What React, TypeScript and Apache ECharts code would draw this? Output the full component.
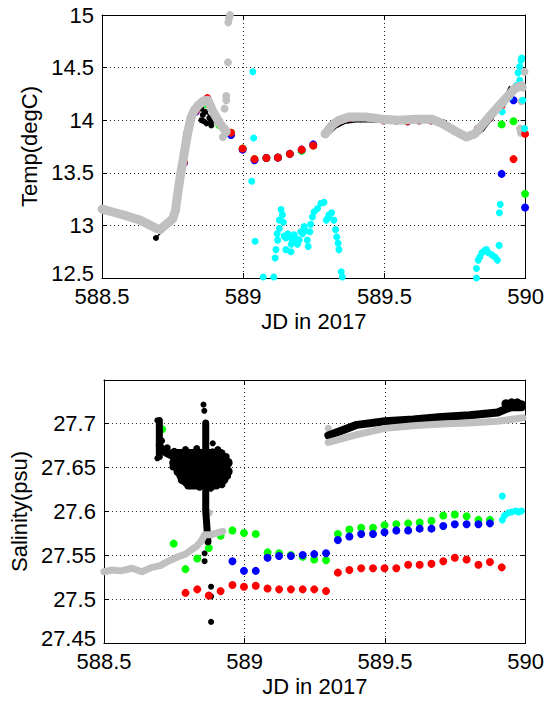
import React, { useEffect, useRef } from "react";
import * as echarts from "echarts";

// ---------- data ----------
const hourX = [588.79, 588.832, 588.873, 588.915, 588.957, 588.998, 589.04, 589.082, 589.123, 589.165, 589.207, 589.248, 589.29, 589.332, 589.373, 589.415, 589.457, 589.498, 589.54, 589.582, 589.623, 589.665, 589.707, 589.748, 589.79, 589.832, 589.873, 589.915, 589.957, 589.998];
const earlyX = [588.707, 588.748];

const tempRed = [13.6, 14.09, 14.21, 13.99, 13.88, 13.73, 13.63, 13.64, 13.645, 13.68, 13.72, 13.76, 13.87, 13.97, 14.01, 14.02, 14.02, 14.0, 14.0, 13.99, 14.0, 14.0, 13.97, 13.9, 13.85, 13.92, 14.02, 14.14, 13.63, 13.87];
const tempGreen = [12.96, 13.06, 13.6, 14.1, 14.15, 13.955, 13.88, 13.73, 13.63, 13.64, 13.645, 13.68, 13.71, 13.76, 13.87, 13.97, 14.01, 14.02, 14.02, 14.0, 14.0, 13.99, 14.0, 14.0, 13.97, 13.9, 13.85, 13.92, 14.02, 13.96, 13.99, 13.3];
const tempBlue = [13.59, 14.08, 14.2, 13.98, 13.86, 13.72, 13.62, 13.64, 13.645, 13.68, 13.72, 13.77, 13.87, 13.97, 14.01, 14.02, 14.02, 14.0, 14.0, 13.99, 14.0, 14.0, 13.97, 13.9, 13.85, 13.92, 14.02, 13.49, 14.19, 13.17];

const tempGrayA = [[588.5, 13.155], [588.547, 13.12], [588.588, 13.09], [588.635, 13.05], [588.694, 12.97], [588.705, 12.96], [588.75, 13.06], [588.76, 13.14], [588.768, 13.3], [588.776, 13.45], [588.787, 13.62], [588.797, 13.78], [588.805, 13.9], [588.815, 14.02], [588.826, 14.09], [588.84, 14.14], [588.858, 14.18], [588.875, 14.19], [588.893, 14.08], [588.917, 13.97], [588.94, 13.89]];
const tempGrayB = [[589.29, 13.87], [589.316, 13.955], [589.339, 14.0], [589.374, 14.03], [589.433, 14.03], [589.492, 14.01], [589.55, 14.0], [589.61, 14.01], [589.668, 14.01], [589.703, 13.97], [589.73, 13.93], [589.762, 13.88], [589.79, 13.84], [589.82, 13.87], [589.867, 14.02], [589.914, 14.16], [589.961, 14.3], [589.985, 14.33]];
const tempGrayOut = [[588.928, 13.84], [588.934, 14.11], [588.94, 14.19], [588.94, 14.23], [588.946, 14.55], [588.947, 14.93], [588.95, 14.97], [588.953, 15.0], [589.996, 14.46], [589.99, 14.31], [589.985, 14.18], [589.98, 13.92], [589.983, 13.88]];
const tempBlackA = [[588.691, 12.88], [588.723, 12.97], [588.752, 13.04], [588.758, 13.18], [588.766, 13.37], [588.777, 13.62], [588.791, 13.88], [588.806, 14.03], [588.826, 14.11], [588.846, 14.12], [588.87, 14.08], [588.887, 14.0], [588.917, 13.94], [588.942, 13.89]];
const tempBlackB = [[589.3, 13.855], [589.33, 13.93], [589.36, 13.97], [589.4, 13.985], [589.45, 13.985], [589.5, 13.98], [589.55, 13.975], [589.6, 13.98], [589.66, 13.985], [589.7, 13.975], [589.73, 13.935], [589.76, 13.87], [589.79, 13.82], [589.815, 13.83], [589.85, 13.9], [589.9, 14.08], [589.943, 14.32]];
const tempBlackDots = [[588.691, 12.88], [588.852, 14.11], [588.852, 14.0], [588.857, 14.05], [588.865, 14.08], [588.87, 13.97], [588.88, 14.02], [588.887, 13.99], [588.887, 13.95], [588.86, 13.99]];
const tempCyan = [[589.034, 14.46], [589.037, 13.83], [589.03, 13.42], [589.042, 12.85], [589.071, 12.51], [589.108, 12.51], [589.113, 12.69], [589.116, 12.77], [589.122, 12.86], [589.128, 12.97], [589.128, 13.05], [589.134, 13.15], [589.142, 13.03], [589.151, 12.88], [589.151, 12.77], [589.169, 12.75], [589.163, 12.89], [589.18, 12.91], [589.192, 12.82], [589.198, 12.86], [589.204, 12.94], [589.216, 12.99], [589.227, 12.86], [589.23, 12.8], [589.236, 12.94], [589.239, 13.01], [589.245, 13.08], [589.251, 13.13], [589.263, 13.16], [589.275, 13.21], [589.286, 13.22], [589.294, 13.05], [589.304, 13.1], [589.313, 13.12], [589.321, 13.05], [589.327, 12.96], [589.331, 12.89], [589.336, 12.83], [589.339, 12.77], [589.347, 12.56], [589.351, 12.51], [589.145, 12.9], [589.158, 12.92], [589.175, 12.86], [589.185, 12.88], [589.17, 12.82], [589.21, 12.92], [589.22, 12.95], [589.3, 13.07], [589.139, 13.1], [589.12, 12.92], [589.826, 12.5], [589.826, 12.59], [589.832, 12.67], [589.838, 12.7], [589.845, 12.74], [589.855, 12.76], [589.861, 12.77], [589.868, 12.74], [589.88, 12.72], [589.891, 12.7], [589.9, 12.67], [589.906, 12.81], [589.907, 13.12], [589.91, 13.2], [589.917, 14.08], [589.92, 14.16], [589.932, 14.21], [589.943, 14.22], [589.949, 14.26], [589.961, 14.29], [589.967, 14.33], [589.979, 14.38], [589.973, 14.45], [589.979, 14.51], [589.984, 14.57], [589.986, 14.59], [589.99, 14.19], [589.996, 13.92]];

const salRed = [27.507, 27.511, 27.504, 27.509, 27.516, 27.514, 27.515, 27.512, 27.511, 27.511, 27.511, 27.511, 27.509, 27.53, 27.533, 27.535, 27.535, 27.535, 27.535, 27.539, 27.539, 27.54, 27.543, 27.547, 27.545, 27.539, 27.542, 27.536];
const salGreen = [27.693, 27.563, 27.534, 27.546, 27.558, 27.572, 27.578, 27.575, 27.574, 27.553, 27.552, 27.55, 27.548, 27.545, 27.544, 27.574, 27.579, 27.581, 27.581, 27.584, 27.585, 27.586, 27.587, 27.589, 27.595, 27.596, 27.594, 27.59, 27.59];
const salBlue = [27.543, 27.532, 27.532, 27.547, 27.549, 27.549, 27.55, 27.551, 27.552, 27.567, 27.571, 27.574, 27.574, 27.576, 27.578, 27.578, 27.58, 27.58, 27.583, 27.585, 27.585, 27.585, 27.586];

const salGrayA = [[588.5, 27.531], [588.53, 27.533], [588.56, 27.532], [588.6, 27.535], [588.635, 27.531], [588.67, 27.536], [588.7, 27.538], [588.729, 27.543], [588.764, 27.548], [588.79, 27.551], [588.811, 27.556], [588.83, 27.56], [588.846, 27.566], [588.858, 27.573], [588.881, 27.573], [588.9, 27.575], [588.923, 27.577]];
const salGrayB = [[589.298, 27.678], [589.4, 27.687], [589.5, 27.694], [589.6, 27.697], [589.7, 27.699], [589.8, 27.7], [589.9, 27.702], [589.99, 27.706]];
const salGrayOut = [[588.866, 27.586], [588.875, 27.598], [589.298, 27.694]];
const salBlackB = [[589.298, 27.686], [589.35, 27.692], [589.4, 27.698], [589.5, 27.702], [589.6, 27.704], [589.7, 27.707], [589.8, 27.709], [589.9, 27.712], [589.93, 27.716], [589.95, 27.718], [589.985, 27.718]];
const salBlackBump = [[589.93, 27.722], [589.95, 27.723], [589.97, 27.723], [589.985, 27.721]];
const salBlobStalk = [[588.697, 27.703], [588.697, 27.662]];
const salBlobNeck = [[588.697, 27.675], [588.72, 27.666], [588.745, 27.662]];
const salBlobRow1 = [[588.745, 27.665], [588.915, 27.665]];
const salBlobRow2 = [[588.75, 27.655], [588.94, 27.655]];
const salBlobRow3 = [[588.765, 27.645], [588.94, 27.645]];
const salBlobRow4 = [[588.78, 27.636], [588.925, 27.636]];
const salBlobRow5 = [[588.8, 27.629], [588.9, 27.629]];
const salBlobColumn = [[588.862, 27.7], [588.862, 27.6], [588.87, 27.565]];
const salBlobEdge = [[588.75, 27.668], [588.79, 27.67], [588.83, 27.671], [588.905, 27.67], [588.935, 27.662], [588.94, 27.64], [588.92, 27.63], [588.88, 27.626], [588.84, 27.627], [588.79, 27.632], [588.77, 27.64], [588.745, 27.65], [588.705, 27.68], [588.725, 27.672]];
const salBlackDots = [[588.854, 27.721], [588.857, 27.714], [588.887, 27.677], [588.886, 27.668], [588.858, 27.552], [588.858, 27.543], [588.881, 27.514], [588.881, 27.503], [588.881, 27.474], [588.69, 27.66], [588.69, 27.703]];
const salCyan = [[589.917, 27.617], [589.917, 27.59], [589.925, 27.595], [589.939, 27.598], [589.95, 27.599], [589.965, 27.6], [589.975, 27.599], [589.985, 27.6]];

// ---------- helpers ----------
const zip = (xs: number[], ys: number[]) => ys.map((y, i) => [xs[i], y]);
const FONT = "Liberation Sans, Arial, Helvetica, sans-serif";

function lineS(data: number[][], color: string, width: number, xi: number, yi: number) {
  return {
    type: "line", xAxisIndex: xi, yAxisIndex: yi, data, symbol: "none", silent: true, clip: false,
    lineStyle: { color, width, cap: "round", join: "round" },
  };
}
function scatS(data: number[][], color: string, size: number, xi: number, yi: number) {
  return {
    type: "scatter", xAxisIndex: xi, yAxisIndex: yi, data, symbol: "circle", symbolSize: size,
    silent: true, clip: false, itemStyle: { color, opacity: 1 },
  };
}

const GRID_SPLIT = { show: true, lineStyle: { color: "#222", width: 1, type: [1, 3] } };
const TICK = { show: true, inside: true, length: 5, lineStyle: { color: "#000" } };
const LINE = { show: true, lineStyle: { color: "#000", width: 1 } };
const fmt = (v: number) => String(+Number(v).toFixed(2));

function xAxes(gi: number) {
  return [
    {
      type: "value", gridIndex: gi, min: 588.5, max: 590, interval: 0.5, position: "bottom",
      axisLine: LINE, axisTick: TICK, splitLine: GRID_SPLIT,
      axisLabel: { color: "#000", fontSize: 22, lineHeight: 16, fontFamily: FONT, margin: 10, formatter: fmt },
      name: "JD in 2017", nameLocation: "middle", nameGap: 32,
      nameTextStyle: { color: "#000", fontSize: 22, fontFamily: FONT },
    },
    {
      type: "value", gridIndex: gi, min: 588.5, max: 590, interval: 0.5, position: "top",
      axisLine: LINE, axisTick: TICK, splitLine: { show: false }, axisLabel: { show: false },
    },
  ];
}
function yAxes(gi: number, min: number, max: number, interval: number, name: string) {
  return [
    {
      type: "value", gridIndex: gi, min, max, interval, position: "left",
      axisLine: LINE, axisTick: TICK, splitLine: GRID_SPLIT,
      axisLabel: {
        color: "#000", fontSize: 22, lineHeight: 16, fontFamily: FONT, margin: 8, showMaxLabel: gi === 0,
        formatter: (v: number) => (Math.abs(v - min) < 1e-6 ? `{lo|${fmt(v)}}` : fmt(v)),
        rich: { lo: { color: "#000", fontSize: 22, lineHeight: 16, fontFamily: FONT, padding: [0, 0, 10, 0] } },
      },
      name, nameLocation: "middle", nameGap: 60,
      nameTextStyle: { color: "#000", fontSize: 22, fontFamily: FONT },
    },
    {
      type: "value", gridIndex: gi, min, max, interval, position: "right",
      axisLine: LINE, axisTick: TICK, splitLine: { show: false }, axisLabel: { show: false },
    },
  ];
}

export default function App() {
  const ref = useRef<HTMLDivElement>(null);
  useEffect(() => {
    if (!ref.current) return;
    const chart = echarts.init(ref.current, null, { renderer: "svg" });
    const GRAY = "#c0c0c0";
    const series: any[] = [
      // top panel
      lineS(tempBlackA, "#000", 1.5, 0, 0),
      lineS(tempBlackB, "#000", 1.5, 0, 0),
      scatS(tempBlackDots, "#000", 6, 0, 0),
      lineS(tempGrayA, GRAY, 9, 0, 0),
      lineS(tempGrayB, GRAY, 9, 0, 0),
      scatS(tempGrayOut, GRAY, 8, 0, 0),
      scatS(zip([...earlyX, ...hourX], tempGreen), "#00ff00", 8, 0, 0),
      scatS(zip(hourX, tempBlue), "#0000ff", 8, 0, 0),
      scatS(zip(hourX, tempRed), "#ff0000", 8, 0, 0),
      scatS(tempCyan, "#00ffff", 7, 0, 0),
      // bottom panel
      lineS(salBlobStalk, "#000", 7, 2, 2),
      lineS(salBlobNeck, "#000", 7, 2, 2),
      lineS(salBlobRow1, "#000", 10, 2, 2),
      lineS(salBlobRow2, "#000", 10, 2, 2),
      lineS(salBlobRow3, "#000", 10, 2, 2),
      lineS(salBlobRow4, "#000", 10, 2, 2),
      lineS(salBlobRow5, "#000", 8, 2, 2),
      lineS(salBlobColumn, "#000", 7, 2, 2),
      scatS(salBlobEdge, "#000", 7, 2, 2),
      scatS(salBlackDots, "#000", 6, 2, 2),
      lineS(salBlackB, "#000", 8, 2, 2),
      scatS(salBlackBump, "#000", 9, 2, 2),
      lineS(salGrayA, GRAY, 7, 2, 2),
      lineS(salGrayB, GRAY, 7, 2, 2),
      scatS(salGrayOut, GRAY, 7, 2, 2),
      scatS(zip([...earlyX, ...hourX.slice(0, 27)], salGreen), "#00ff00", 8, 2, 2),
      scatS(zip(hourX.slice(4, 27), salBlue), "#0000ff", 8, 2, 2),
      scatS(zip(hourX.slice(0, 28), salRed), "#ff0000", 8, 2, 2),
      scatS(salCyan, "#00ffff", 7, 2, 2),
    ];
    chart.setOption({
      animation: false,
      backgroundColor: "#fff",
      textStyle: { fontFamily: FONT },
      grid: [
        { left: 102, top: 15, width: 425, height: 263 },
        { left: 102, top: 380, width: 425, height: 263 },
      ],
      xAxis: [...xAxes(0), ...xAxes(1)],
      yAxis: [...yAxes(0, 12.5, 15, 0.5, "Temp(degC)"), ...yAxes(1, 27.45, 27.749, 0.05, "Salinity(psu)")],
      series,
    });
    return () => chart.dispose();
  }, []);
  return (
    <div
      ref={ref}
      style={{ position: "absolute", left: 0, top: 0, width: 547, height: 702, background: "#fff" }}
    />
  );
}
